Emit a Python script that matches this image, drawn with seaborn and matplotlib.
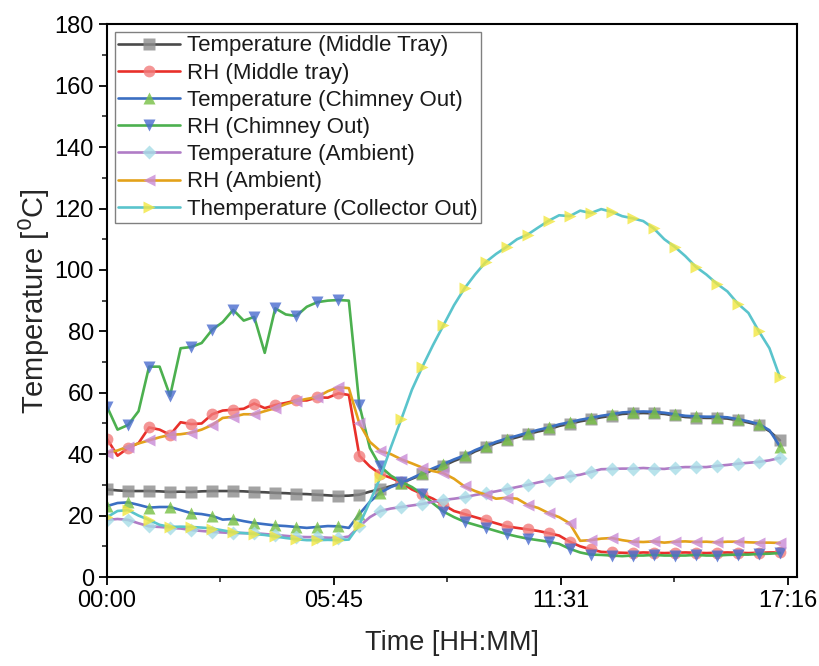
import matplotlib
matplotlib.use("Agg")
import matplotlib.pyplot as plt
from matplotlib.ticker import AutoMinorLocator, MultipleLocator
import pandas as pd
import seaborn as sns

sns.set_style("ticks")
plt.rcParams["font.family"] = ["Liberation Sans", "DejaVu Sans"]

# sample times in minutes from 00:00
time_min = [0, 16, 32, 48, 64, 80, 96, 112, 128, 144, 160, 176, 192, 208, 224, 240,
            256, 272, 288, 304, 320, 336, 352, 368, 384, 400, 416, 432, 448, 464, 480,
            496, 512, 528, 544, 560, 576, 592, 608, 624, 640, 656, 672, 688, 704, 720,
            736, 752, 768, 784, 800, 816, 832, 848, 864, 880, 896, 912, 928, 944, 960,
            976, 992, 1008, 1024]

temp_middle_tray = [28.5, 28.2, 28.0, 28.0, 28.0, 27.9, 27.7, 27.8, 27.7, 27.9, 28.0, 28.0,
                    28.0, 27.9, 27.7, 27.6, 27.4, 27.3, 27.1, 27.0, 26.8, 26.6, 26.4, 26.5,
                    26.8, 27.8, 28.6, 29.6, 30.6, 32.0, 33.4, 34.9, 36.2, 37.8, 39.1, 40.9,
                    42.2, 43.6, 44.6, 45.5, 46.5, 47.4, 48.1, 49.2, 49.9, 50.7, 51.3, 52.0,
                    52.5, 53.1, 53.3, 53.4, 53.3, 53.1, 52.6, 52.1, 51.9, 51.8, 51.8, 51.6,
                    51.0, 50.3, 49.5, 47.5, 44.5]

rh_middle_tray = [45.0, 39.5, 42.0, 43.6, 48.7, 48.0, 46.3, 50.4, 49.8, 50.0, 53.0, 54.2,
                  54.5, 54.8, 56.5, 55.0, 56.0, 56.7, 57.5, 57.5, 58.5, 58.4, 59.8, 59.3,
                  39.5, 36.0, 33.5, 32.3, 30.8, 28.5, 27.0, 25.5, 23.5, 21.5, 20.5, 19.5,
                  18.5, 17.5, 16.5, 16.0, 15.5, 15.0, 14.3, 13.5, 11.5, 10.0, 9.0, 8.2,
                  8.0, 7.9, 7.8, 8.0, 7.9, 7.8, 7.9, 8.0, 7.9, 7.8, 7.9, 8.0,
                  7.9, 7.8, 7.9, 8.0, 8.0]

temp_chimney_out = [23.1, 24.1, 24.3, 23.5, 22.6, 22.8, 22.8, 21.8, 20.8, 20.5, 19.9, 18.7,
                    18.9, 18.2, 17.6, 17.2, 16.8, 16.6, 16.3, 16.0, 16.3, 16.6, 16.5, 16.0,
                    20.5, 24.5, 27.5, 29.3, 30.6, 32.2, 33.8, 35.4, 36.8, 38.3, 39.6, 41.3,
                    42.7, 44.0, 45.1, 46.0, 47.0, 47.9, 48.7, 49.7, 50.4, 51.2, 51.8, 52.5,
                    53.0, 53.6, 53.8, 53.9, 53.8, 53.5, 53.0, 52.5, 52.3, 52.2, 52.2, 52.0,
                    51.4, 50.7, 49.8, 47.8, 42.5]

rh_chimney_out = [55.5, 48.0, 49.5, 54.0, 68.5, 68.5, 59.0, 74.5, 74.9, 76.2, 80.5, 83.0,
                  87.0, 83.5, 84.7, 73.0, 87.5, 85.5, 85.0, 88.0, 89.5, 90.0, 90.2, 90.0,
                  56.0, 42.0, 36.0, 33.0, 31.0, 29.3, 27.0, 24.0, 21.3, 19.5, 18.0, 17.0,
                  16.0, 15.0, 14.0, 13.2, 12.5, 12.0, 11.5, 10.8, 9.2, 8.0, 7.3, 7.2,
                  7.0, 6.8, 7.0, 7.0, 7.2, 7.0, 7.0, 7.0, 7.2, 7.0, 7.0, 7.2,
                  7.3, 7.3, 7.5, 7.6, 7.8]

temp_ambient = [18.6, 18.9, 18.6, 17.5, 16.5, 16.3, 16.0, 15.8, 15.3, 15.0, 14.7, 14.5,
                14.3, 14.3, 14.3, 14.0, 13.7, 13.4, 13.1, 13.0, 13.0, 12.8, 12.7, 13.2,
                16.5, 19.5, 21.5, 22.3, 22.8, 23.3, 23.8, 24.5, 25.1, 25.5, 26.0, 26.7,
                27.3, 27.9, 28.6, 29.3, 30.0, 30.8, 31.5, 32.2, 32.8, 33.3, 34.2, 35.1,
                35.2, 35.3, 35.3, 35.5, 35.3, 35.2, 35.6, 35.8, 35.8, 35.8, 36.2, 36.5,
                36.9, 37.2, 37.5, 38.0, 38.8]

rh_ambient = [40.5, 41.2, 42.5, 43.5, 44.5, 45.5, 46.3, 46.5, 47.0, 48.0, 49.5, 51.8,
              52.2, 53.0, 53.0, 54.0, 55.0, 56.3, 57.3, 58.0, 58.6, 60.5, 61.8, 61.5,
              50.0, 44.0, 41.0, 40.0, 38.3, 37.0, 35.6, 34.5, 33.8, 32.0, 29.5, 28.0,
              26.8, 25.5, 25.8, 25.5, 23.5, 22.5, 20.8, 19.5, 17.5, 11.8, 12.0, 12.5,
              12.7, 12.0, 11.5, 11.4, 11.6, 11.2, 11.5, 11.6, 11.4, 11.5, 11.3, 11.5,
              11.5, 11.3, 11.2, 11.2, 11.1]

temp_collector_out = [19.5, 21.5, 21.8, 20.0, 18.6, 17.0, 16.3, 16.4, 16.3, 16.1, 15.8, 15.2,
                      14.6, 14.3, 14.0, 13.7, 13.2, 12.7, 12.3, 12.0, 12.0, 12.1, 12.0, 12.2,
                      17.0, 24.5, 32.5, 42.3, 51.5, 61.0, 68.5, 75.5, 82.0, 88.5, 94.0, 98.5,
                      102.5, 105.2, 107.5, 110.0, 111.5, 113.8, 116.0, 117.8, 117.5, 119.3, 118.5, 119.8,
                      118.9, 117.5, 116.8, 115.9, 113.5, 110.0, 107.5, 104.5, 101.0, 98.5, 95.5, 93.0,
                      89.0, 86.0, 80.0, 74.5, 65.0]

series_labels = ["Temperature (Middle Tray)", "RH (Middle tray)", "Temperature (Chimney Out)",
                 "RH (Chimney Out)", "Temperature (Ambient)", "RH (Ambient)",
                 "Themperature (Collector Out)"]

tick_pos = [0, 345.33, 690.67, 1036]
tick_labels = ["00:00", "05:45", "11:31", "17:16"]

df = pd.DataFrame({
    "time": time_min,
    series_labels[0]: temp_middle_tray,
    series_labels[1]: rh_middle_tray,
    series_labels[2]: temp_chimney_out,
    series_labels[3]: rh_chimney_out,
    series_labels[4]: temp_ambient,
    series_labels[5]: rh_ambient,
    series_labels[6]: temp_collector_out,
})

# (line colour, marker, marker colour)
styles = [
    ("#4a4a4a", "s", "#8c8c8c"),
    ("#e8302a", "o", "#f27c7c"),
    ("#3b6fc2", "^", "#76c043"),
    ("#4cb04f", "v", "#4a6ccf"),
    ("#b07cc6", "D", "#a6dde6"),
    ("#e3a21a", "<", "#c98ad6"),
    ("#5ac4cc", ">", "#f2e640"),
]

fig = plt.figure(figsize=(8.2, 6.66), dpi=100)
ax = fig.add_axes([0.1305, 0.1336, 0.8415, 0.830])

for label, (lc, mk, mc) in zip(series_labels, styles):
    sns.lineplot(data=df, x="time", y=label, ax=ax, color=lc, lw=1.9, label=label,
                 marker=mk, markevery=2, ms=8.5 if mk != "D" else 7,
                 markerfacecolor=mc, markeredgecolor="none")
    ax.lines[-1].set_markerfacecolor(matplotlib.colors.to_rgba(mc, 0.8))

ax.set_xlim(0, 1050)
ax.set_ylim(0, 180)
ax.set_xticks(tick_pos)
ax.set_xticklabels(tick_labels)
ax.xaxis.set_minor_locator(AutoMinorLocator(2))
ax.yaxis.set_major_locator(MultipleLocator(20))
ax.yaxis.set_minor_locator(MultipleLocator(10))
ax.tick_params(which="major", direction="out", length=6, width=1.3, labelsize=17,
               top=False, right=False, colors="black")
ax.tick_params(which="minor", direction="out", length=3.5, width=1.2, top=False, right=False)
for s in ax.spines.values():
    s.set_linewidth(1.5)
    s.set_color("black")

ax.set_xlabel("Time [HH:MM]", fontsize=19.5, labelpad=13)
ax.set_ylabel("Temperature [$^0$C]", fontsize=21, labelpad=2)

leg = ax.legend(loc="upper left", fontsize=16, frameon=True, fancybox=False, framealpha=1,
                edgecolor="#808080", handlelength=2.8, handletextpad=0.3, labelspacing=0.28,
                borderpad=0.15, borderaxespad=0.35)
for txt in leg.get_texts():
    txt.set_color("#1a1a1a")

fig.savefig("out.png", dpi=100)
